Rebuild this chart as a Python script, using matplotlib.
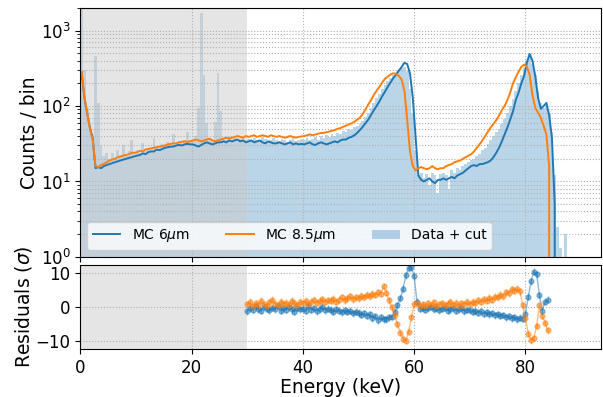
import numpy as np
import matplotlib
matplotlib.use("Agg")
import matplotlib.pyplot as plt

# spectrum binning (keV)
edges = np.arange(0, 88.01, 0.5)
centers = 0.5 * (edges[1:] + edges[:-1])

# MC 6um, counts per 0.5 keV bin
mc6 = [
    280, 130, 80, 52, 37, 15, 15.5, 15, 16, 16.5,        # 0-5
    17, 17.5, 18, 18.5, 19, 19.5, 20, 20.5, 21, 21.5,    # 5-10
    22, 22.5, 23.5, 23, 24.5, 25, 25, 26.5, 26, 27,      # 10-15
    28, 28.5, 29, 29, 30, 30.5, 30, 31, 31.5, 31,        # 15-20
    31, 30, 29, 30.5, 32, 33, 32, 31, 32, 33,            # 20-25
    33, 34, 33, 35, 34, 35, 36, 34, 35, 33,              # 25-30
    34, 35, 33, 34, 35, 33, 32, 34, 33, 32,              # 30-35
    32, 33, 32, 31, 32, 33, 31, 32, 31, 31.5,            # 35-40
    31, 32, 33, 31, 30.5, 32, 33, 32, 31, 32,            # 40-45
    33, 34, 33, 35, 36, 36, 38, 39, 41, 44,              # 45-50
    48, 53, 59, 66, 76, 88, 100, 115, 135, 155,          # 50-55
    180, 205, 235, 262, 295, 330, 375, 360, 270, 130,    # 55-60
    40, 12, 10.5, 10, 10.5, 11, 10, 9.5, 10.5, 10.5,     # 60-65
    11, 10.5, 11, 11.5, 11, 12, 12.5, 13, 14, 15,        # 65-70
    16, 16.5, 16, 17, 17, 17.5, 18, 19, 21, 24,          # 70-75
    28, 34, 42, 52, 66, 85, 120, 150, 200, 250,          # 75-80
    380, 490, 400, 250, 130, 92, 100, 110, 75, 38,       # 80-85
    5, 0, 0, 0, 0, 0,                                    # 85-88
]

# MC 8.5um
mc85 = [
    277, 135, 82, 50, 36, 16, 15.5, 16.5, 17, 18,
    19, 19.5, 20, 21, 21.5, 22, 22.5, 23, 24, 24,
    24.5, 25.5, 25, 26.5, 27, 27.5, 28, 28.5, 29, 29.5,
    30, 31, 31.5, 32, 32, 33, 33.5, 34, 33.5, 34,
    35, 36, 35, 34, 35, 36, 37, 35, 34, 35,
    36, 37, 38, 37, 38, 39, 40, 39, 38, 40,
    39, 40, 41, 39, 40, 41, 40, 39, 41, 40,
    39, 40, 39, 38, 39, 40, 39, 38, 39, 39.5,
    40, 41, 42, 41, 42, 43, 44, 44, 45, 46,
    47, 48, 50, 51, 53, 55, 57, 59, 62, 66,
    70, 78, 90, 105, 120, 140, 160, 180, 205, 230,
    245, 262, 272, 268, 250, 225, 160, 65, 25, 16,
    14, 15, 15.5, 15, 14.5, 15, 16, 15, 14.5, 15,
    15, 16, 16.5, 17, 18, 18.5, 19, 20, 21, 22,
    23, 25, 28, 31, 35, 40, 46, 52, 58, 65,
    75, 88, 100, 120, 150, 200, 240, 285, 330, 355,
    330, 260, 140, 95, 82, 70, 55, 42, 16, 0,
    0, 0, 0, 0, 0, 0,
]

# measured spectrum after cuts
data = [
    2500, 300, 95, 55, 42, 456, 110, 30, 22, 24,
    20, 24, 19, 26, 21, 30, 22, 25, 35, 23,
    26, 24, 32, 25, 28, 27, 38, 26, 29, 31,
    30, 33, 29, 42, 31, 34, 32, 36, 45, 35,
    36, 40, 95, 1740, 260, 60, 38, 36, 62, 277,
    85, 38, 35, 40, 36, 38, 34, 37, 39, 36,
    37, 35, 38, 36, 34, 39, 37, 33, 36, 38,
    36, 34, 37, 35, 33, 36, 38, 34, 35, 37,
    36, 38, 35, 37, 39, 36, 40, 38, 41, 39,
    42, 40, 44, 43, 47, 45, 49, 48, 52, 55,
    58, 64, 72, 80, 95, 110, 128, 145, 168, 190,
    215, 235, 255, 275, 300, 320, 330, 290, 170, 80,
    25, 12, 13, 11, 12.5, 9, 13, 12, 7, 12.5,
    13, 12, 8, 14, 13, 15, 14, 16, 17, 18,
    19, 20, 22, 23, 26, 28, 31, 35, 40, 45,
    50, 58, 68, 80, 100, 125, 160, 200, 260, 320,
    400, 450, 360, 260, 160, 110, 95, 100, 80, 45,
    12, 2.5, 1.3, 0, 2, 0,
]

# residuals (data - MC)/sigma above the 30 keV cut
res_e = np.arange(30, 84.01, 0.5)
res6 = [
    -1.2, -0.3, -0.8, 0.2, -0.6, -1.0, 0.1, -0.5, -0.9, -0.2,
    -0.7, 0.3, -1.1, -0.4, -0.8, 0.0, -0.6, -1.3, -0.3, -0.7,
    -0.5, -1.0, 0.2, -0.8, -0.4, -1.2, -0.6, 0.1, -0.9, -0.5,
    -0.8, -1.3, -0.6, -1.0, -1.5, -0.9, -1.4, -1.1, -1.8, -1.3,
    -1.6, -2.2, -1.8, -2.5, -2.0, -3.2, -2.6, -3.8, -3.0, -3.6,
    -3.5, -3.0, -2.9, -1.5, 0.5, 2.5, 5.3, 9.2, 11.3, 11.6,
    9.0, 1.5, -0.5, -0.2, -0.8, -0.4, 0.1, -0.7, -0.3, -0.9,
    -0.5, -0.2, -1.0, -0.6, -0.3, -1.1, -0.7, -0.4, -1.2, -0.8,
    -0.9, -1.4, -1.0, -1.6, -1.2, -1.9, -1.5, -2.1, -1.8, -2.4,
    -2.0, -2.6, -2.3, -3.0, -2.7, -3.3, -2.9, -3.6, -3.1, -3.4,
    -2.0, 3.0, 7.5, 10.3, 9.5, 3.5, -1.0, 1.5, 2.1,
]
res85 = [
    0.8, 1.5, 0.3, 1.2, 0.6, 1.8, 0.9, 0.4, 1.4, 2.2,
    1.0, 0.5, 1.6, 0.9, 1.3, 0.7, 1.9, 1.1, 0.6, 1.5,
    1.2, 1.8, 0.9, 1.5, 2.1, 1.3, 1.7, 2.3, 1.4, 2.0,
    1.8, 2.4, 1.6, 2.2, 2.8, 2.0, 2.5, 3.1, 2.3, 2.9,
    2.6, 3.3, 2.8, 3.6, 3.2, 3.9, 3.5, 4.3, 3.9, 6.0,
    4.2, 2.0, 0.0, -2.4, -5.0, -7.5, -9.2, -9.8, -7.2, -3.0,
    0.8, 1.2, 0.4, 0.9, 0.2, 1.1, 0.6, 1.4, 0.3, 0.8,
    1.2, 0.5, 1.0, 1.6, 0.7, 1.3, 0.4, 1.1, 0.8, 1.5,
    0.9, 1.6, 1.2, 2.0, 1.5, 2.3, 1.8, 2.7, 2.2, 3.0,
    2.8, 3.6, 3.2, 4.3, 4.0, 5.2, 4.8, 5.3, 4.6, 0.5,
    -3.2, -7.7, -9.6, -9.0, -5.5, 0.5, -2.5, -4.5, -6.8,
]

cut = 30

fig = plt.figure(figsize=(6.03, 3.97), dpi=100)
ax = fig.add_axes([0.133, 0.353, 0.864, 0.627])
axr = fig.add_axes([0.133, 0.12, 0.864, 0.213], sharex=ax)

hdata = ax.stairs(data, edges, fill=True, color="C0", alpha=0.3, baseline=0.1,
                  label="Data + cut", zorder=1)
ax.axvspan(0, cut, color="0.8", alpha=0.5, lw=0, zorder=1.5)
h6, = ax.plot(centers, mc6, color="C0", lw=1.4, label=r"MC 6$\mu$m", zorder=2)
h85, = ax.plot(centers, mc85, color="C1", lw=1.4, label=r"MC 8.5$\mu$m", zorder=2)

ax.set_yscale("log")
ax.set_ylim(1, 2000)
ax.set_xlim(0, 93.6)
ax.set_ylabel("Counts / bin", fontsize=13.5, labelpad=1)
ax.tick_params(labelsize=12)
ax.tick_params(axis="x", labelbottom=False)
ax.grid(True, which="major", ls=":")
ax.grid(True, which="minor", axis="y", ls=":")
ax.legend(handles=[h6, h85, hdata], loc="lower left", ncol=3, fontsize=10,
          columnspacing=2.6)

axr.axvspan(0, cut, color="0.8", alpha=0.5, lw=0)
axr.errorbar(res_e, res6, yerr=1, fmt="o-", ms=3.5, lw=1, color="C0", alpha=0.5)
axr.errorbar(res_e, res85, yerr=1, fmt="o-", ms=3.5, lw=1, color="C1", alpha=0.5)
axr.set_ylim(-12.3, 12.3)
axr.set_yticks([-10, 0, 10])
axr.set_xticks([0, 20, 40, 60, 80])
axr.set_ylabel(r"Residuals ($\sigma$)", fontsize=13.5, labelpad=1)
axr.set_xlabel("Energy (keV)", fontsize=13.5, labelpad=1)
axr.tick_params(labelsize=12)
axr.grid(True, ls=":")

fig.savefig("out.png", dpi=100)
